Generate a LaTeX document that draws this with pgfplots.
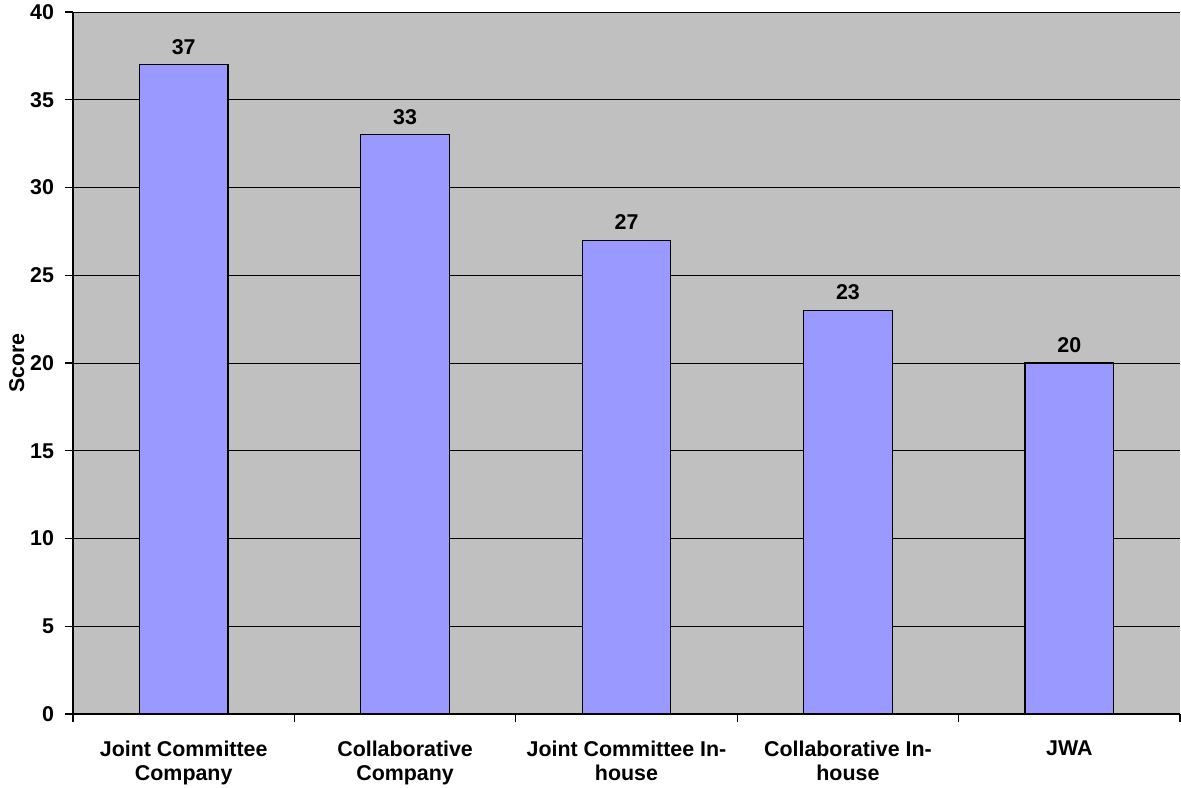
\documentclass[border=0pt]{standalone}
\usepackage{pgfplots}
\pgfplotsset{compat=1.18}
\usepackage{fontspec}
\setmainfont{Liberation Sans}
\definecolor{plotgray}{HTML}{C0C0C0}
\definecolor{barblue}{HTML}{9999FF}
\begin{document}
\begin{tikzpicture}
\useasboundingbox (-36.5pt,-36.5pt) rectangle (554pt,357pt);
\begin{axis}[
  at={(0,0)}, anchor=south west,
  scale only axis, width=553.5pt, height=351pt,
  xmin=0, xmax=5, ymin=0, ymax=40,
  axis background/.style={fill=plotgray},
  axis lines=left, axis line style={-, black, line width=0.8pt},
  ytick={0,5,...,40},
  ymajorgrids, grid style={black, line width=0.5pt},
  xtick={0.5,1.5,2.5,3.5,4.5},
  xticklabels={{Joint Committee\\Company},{Collaborative\\Company},{Joint Committee In-\\house},{Collaborative In-\\house},{JWA}},
  x tick label style={align=center, font=\fontsize{10.7}{12}\selectfont\bfseries, anchor=north, yshift=-6pt},
  major x tick style={draw=none},
  minor xtick={0,1,2,3,4,5},
  minor tick length=4pt,
  y tick label style={font=\fontsize{10.7}{12}\selectfont\bfseries},
  major tick length=4pt,
  tick align=outside,
  tick style={black, line width=0.6pt},
  /pgf/number format/assume math mode=true,
  yticklabel style={xshift=-2pt},
  ylabel={Score}, ylabel style={font=\fontsize{10.7}{12}\selectfont\bfseries, yshift=-4pt},
  ybar, bar width=0.4,
  nodes near coords,
  nodes near coords style={font=\fontsize{10.7}{12}\selectfont\bfseries, yshift=1.5pt, /pgf/number format/assume math mode=true},
]
\addplot[fill=barblue, draw=black, line width=0.6pt] coordinates {(0.5,37) (1.5,33) (2.5,27) (3.5,23) (4.5,20)};
\end{axis}
\end{tikzpicture}
\end{document}
